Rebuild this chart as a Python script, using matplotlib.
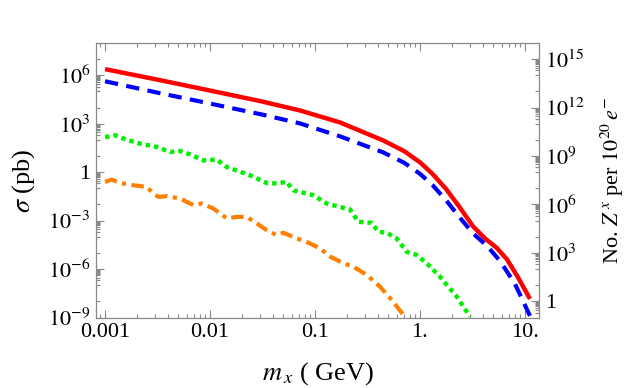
import matplotlib
matplotlib.use('Agg')
import matplotlib.pyplot as plt
import numpy as np
from matplotlib.ticker import FixedLocator, NullFormatter

plt.rcParams['font.family'] = ['Liberation Serif', 'DejaVu Serif']
plt.rcParams['mathtext.fontset'] = 'stix'
plt.rcParams['font.size'] = 16

# log10(mass / GeV) and log10(sigma / pb)
red_lm = [-3.0, -2.505, -2.0, -1.505, -1.143, -0.762, -0.352, -0.15, 0.0, 0.12, 0.25, 0.381, 0.505, 0.619, 0.733, 0.829, 0.933, 1.048]
red_ls = [6.38, 5.735, 5.056, 4.377, 3.821, 3.08, 1.969, 1.30, 0.61, -0.11, -1.05, -2.2, -3.35, -4.1, -4.7, -5.4, -6.5, -7.85]

blue_lm = [-3.0, -2.505, -2.0, -1.505, -1.143, -0.762, -0.352, -0.15, 0.0, 0.12, 0.25, 0.381, 0.505, 0.638, 0.762, 0.905, 1.048]
blue_ls = [5.63, 4.93, 4.25, 3.57, 3.02, 2.22, 1.23, 0.58, -0.1, -0.8, -1.75, -2.82, -3.79, -4.56, -5.49, -6.92, -8.9]

green_lm = [-3.0, -2.905, -2.793, -2.667, -2.508, -2.381, -2.286, -2.19, -2.064, -1.936, -1.841,
            -1.619, -1.46, -1.365, -1.27, -1.207, -1.016, -0.889, -0.667, -0.588, -0.46, -0.397,
            -0.317, -0.222, -0.127, -0.031, 0.064, 0.19, 0.35, 0.476]
green_ls = [2.17, 2.28, 2.01, 1.77, 1.56, 1.25, 1.31, 1.10, 0.73, 0.78, 0.32,
            -0.19, -0.67, -0.70, -0.60, -1.12, -1.43, -1.94, -2.31, -3.07, -3.14, -3.69,
            -3.75, -4.10, -4.93, -5.13, -5.64, -6.47, -7.70, -8.94]

orange_lm = [-3.0, -2.936, -2.857, -2.73, -2.603, -2.54, -2.492, -2.412, -2.286, -2.16, -2.079,
             -1.969, -1.841, -1.746, -1.65, -1.555, -1.46, -1.365, -1.302, -1.174, -1.048, -0.952,
             -0.857, -0.73, -0.635, -0.508, -0.381, -0.27, -0.159]
orange_ls = [-0.60, -0.46, -0.67, -0.81, -0.91, -1.32, -1.53, -1.49, -1.63, -2.04, -1.94,
             -2.25, -2.86, -2.77, -2.77, -3.17, -3.59, -3.90, -3.75, -4.10, -4.41, -4.72,
             -5.23, -5.64, -5.85, -6.36, -7.09, -7.91, -8.83]

x_ticks = [0.001, 0.01, 0.1, 1, 10]
x_labels = ['0.001', '0.01', '0.1', '1.', '10.']
y_ticks = [1e-9, 1e-6, 1e-3, 1, 1e3, 1e6]
y_labels = [r'$10^{-9}$', r'$10^{-6}$', r'$10^{-3}$', '1', r'$10^{3}$', r'$10^{6}$']
r_ticks = [1, 1e3, 1e6, 1e9, 1e12, 1e15]
r_labels = ['1', r'$10^{3}$', r'$10^{6}$', r'$10^{9}$', r'$10^{12}$', r'$10^{15}$']
n_factor = 1e8  # events per pb for 10^20 electrons

fig = plt.figure(figsize=(6.3, 3.88), dpi=100)
ax = fig.add_axes([0.1524, 0.1817, 0.7036, 0.7075])

def p(lm, ls):
    return 10 ** np.array(lm), 10 ** np.array(ls)

ax.plot(*p(red_lm, red_ls), color='#ff0000', lw=3.2, solid_capstyle='butt')
ax.plot(*p(blue_lm, blue_ls), color='#0000ff', lw=3.0, ls=(0, (3.2, 2.0)))
ax.plot(*p(green_lm, green_ls), color='#00f000', lw=3.2, ls=(0, (1.0, 0.9)))
ax.plot(*p(orange_lm, orange_ls), color='#ff8000', lw=3.0, ls=(0, (3.0, 1.3, 1.0, 1.3)))

ax.set_xscale('log')
ax.set_yscale('log')
ax.set_xlim(8.2e-4, 13.7)
ax.set_ylim(1e-9, 1e8)

frame = '#888888'
for s in ax.spines.values():
    s.set_color(frame)

ax.set_xticks(x_ticks, x_labels)
ax.xaxis.set_minor_locator(FixedLocator([m * 10.0 ** k for k in range(-4, 2) for m in range(2, 10)]))
ax.xaxis.set_minor_formatter(NullFormatter())
ax.set_yticks(y_ticks, y_labels)

def minor_y(lo, hi, labeled):
    out = []
    for k in range(lo, hi + 1):
        if k not in labeled:
            out.append(10.0 ** k)
        else:
            out += [m * 10.0 ** (k - 1) for m in range(2, 10)]
    return out

ax.yaxis.set_minor_locator(FixedLocator(minor_y(-9, 8, [-9, -6, -3, 0, 3, 6])))
ax.yaxis.set_minor_formatter(NullFormatter())
ax.tick_params(which='both', direction='in', top=True, right=False, color=frame, width=0.8)
ax.tick_params(which='major', length=6, pad=4)
ax.tick_params(which='minor', length=3)

ax2 = ax.twinx()
ax2.set_yscale('log')
ax2.set_ylim(1e-9 * n_factor, 1e8 * n_factor)
ax2.set_yticks(r_ticks, r_labels)
ax2.yaxis.set_minor_locator(FixedLocator(minor_y(-1, 16, [0, 3, 6, 9, 12, 15])))
ax2.yaxis.set_minor_formatter(NullFormatter())
ax2.tick_params(which='both', direction='in', color=frame, width=0.8)
ax2.tick_params(which='major', length=6, pad=4)
ax2.tick_params(which='minor', length=3)
for s in ax2.spines.values():
    s.set_color(frame)

ax.set_xlabel(r'$m_{\,x}$ ( GeV)', fontsize=19, labelpad=13)
ax.set_ylabel(r'$\sigma$ (pb)', fontsize=19, labelpad=8)
ax2.set_ylabel(r'No. $Z^{\,x}$ per $10^{20}\,e^{-}$', fontsize=16, labelpad=10)

fig.savefig('out.png', dpi=100)
